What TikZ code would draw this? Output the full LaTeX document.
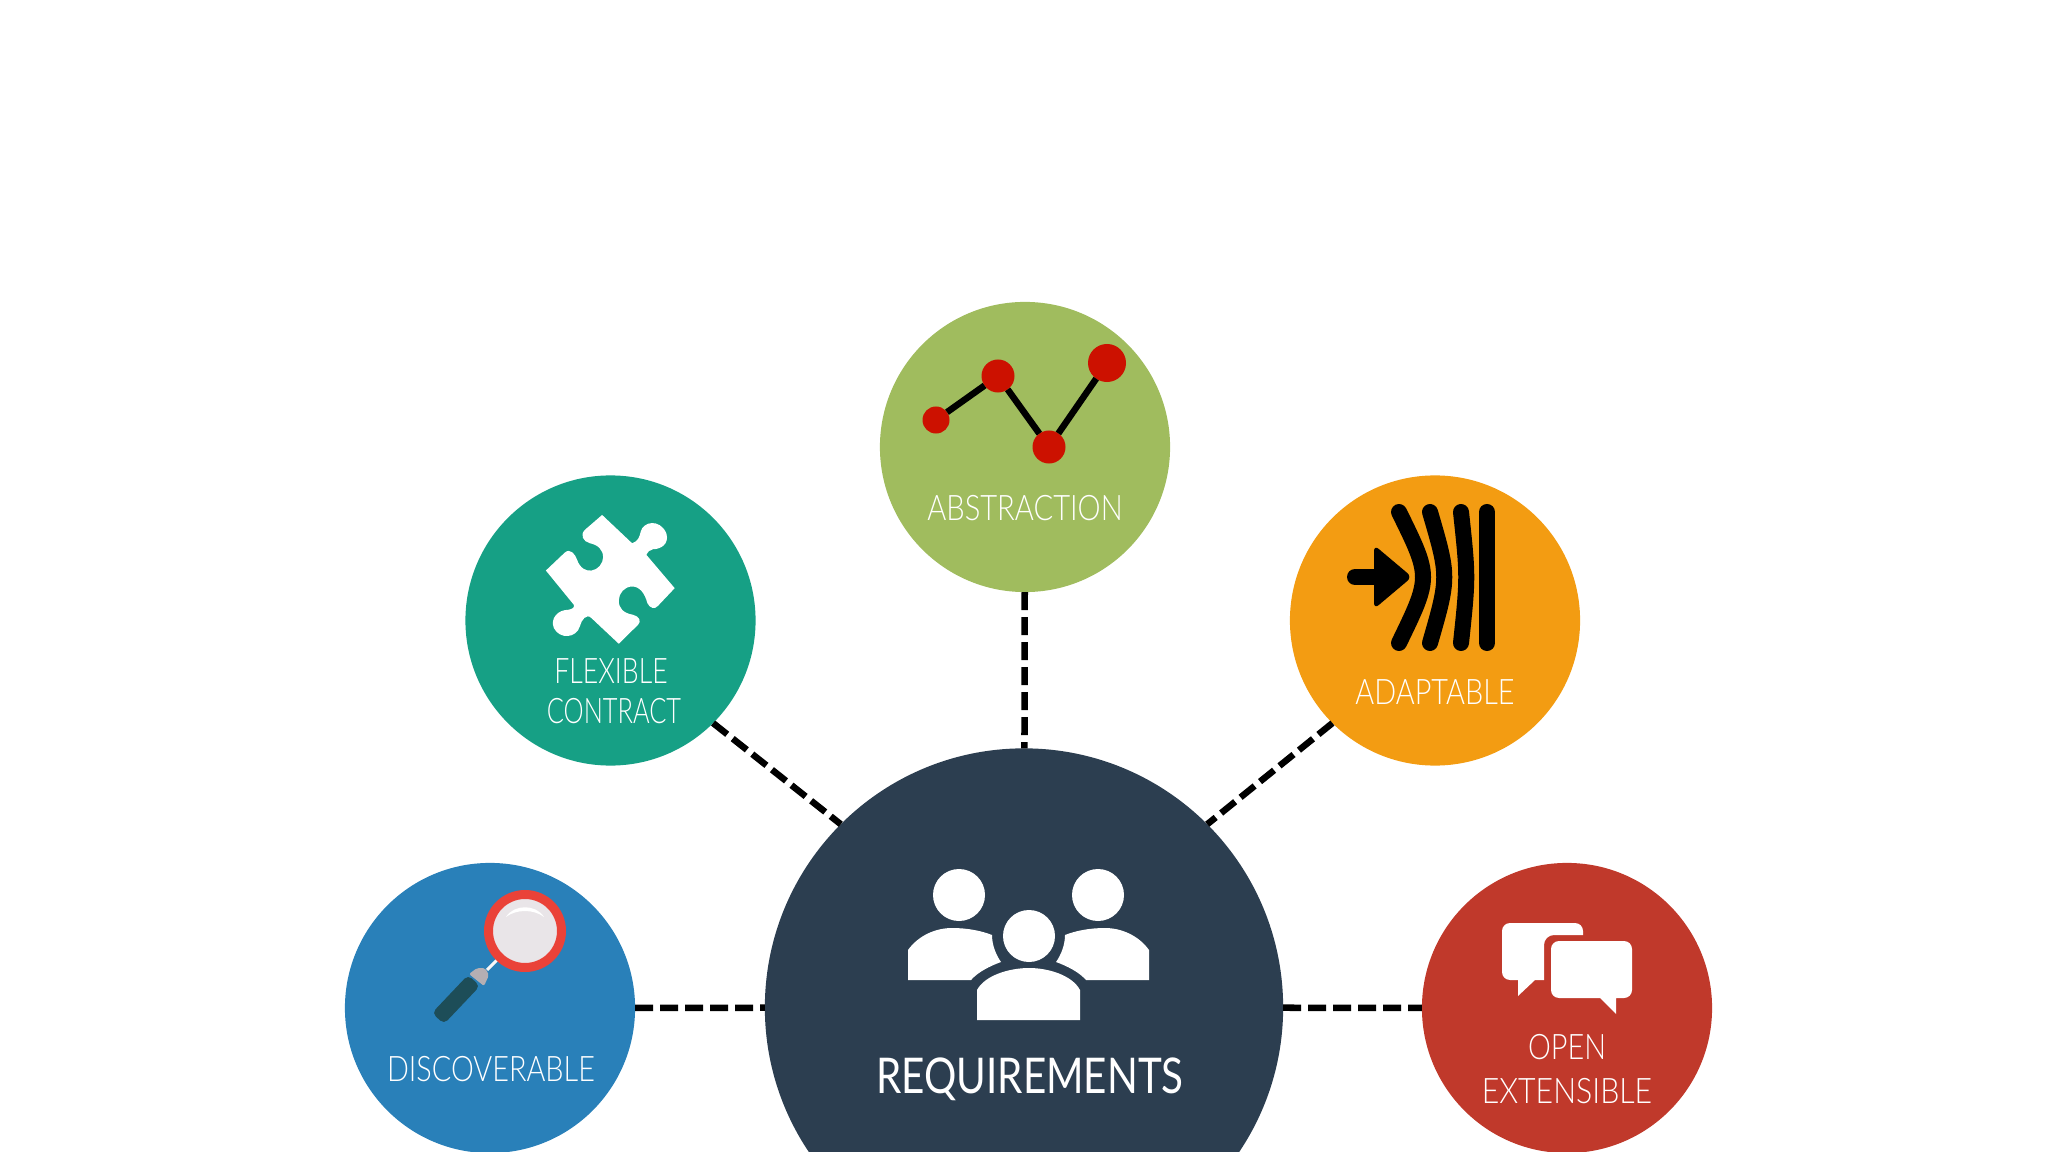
\documentclass[tikz,border=0pt]{standalone}
\usepackage{fontspec}
\newfontfamily\labelfont[UprightFont=*-Light,FakeStretch=0.82]{Lato}
\newfontfamily\mainlabelfont[FakeStretch=0.82]{Lato}
\definecolor{colreq}{HTML}{2C3E50}
\definecolor{coldis}{HTML}{2980B9}
\definecolor{colflx}{HTML}{16A085}
\definecolor{colabs}{HTML}{A0BC5E}
\definecolor{colada}{HTML}{F39C12}
\definecolor{colopn}{HTML}{C0392B}
\definecolor{coldot}{HTML}{CC1100}
\definecolor{colring}{HTML}{EA4238}
\definecolor{collens}{HTML}{E9E5E8}
\definecolor{colgrip}{HTML}{1D4D58}
\definecolor{colcap}{HTML}{B5AFB3}
\tikzset{
  bubble/.style={circle,minimum size=2.9cm,inner sep=0pt,outer sep=0pt},
  link/.style={line width=0.065cm,dash pattern=on 0.18cm off 0.07cm},
  caption/.style={text=white,inner sep=0pt,text height=0.25cm,text depth=0pt,font=\labelfont\fontsize{10}{12}\selectfont},
  dot/.style={circle,fill=coldot,inner sep=0pt,outer sep=0pt},
  stroke/.style={line width=0.16cm,line cap=round},
}
\begin{document}
\begin{tikzpicture}[x=0.01cm,y=-0.01cm]
            \clip (0,0) rectangle (2048,1152);
            \node[bubble,fill=colreq,minimum size=5.18cm] (REQ) at (1024,1007.5) {};
            \node[bubble,fill=coldis] (DIS) at (490,1008) {};
            \node[bubble,fill=colflx] (FLX) at (610.5,620.5) {};
            \node[bubble,fill=colabs] (ABS) at (1025,447) {};
            \node[bubble,fill=colada] (ADA) at (1435,620.5) {};
            \node[bubble,fill=colopn] (OPN) at (1567,1008) {};

            \draw[link] (DIS) to (REQ); \draw[link] (REQ) to (OPN);
            \draw[link] (ABS) to (REQ);
            \draw[link] (FLX.-45) to (REQ.135); \draw[link] (ADA.225) to (REQ.45);

            \node[caption,font=\mainlabelfont\fontsize{14}{16}\selectfont,text height=0.35cm] (TREQ) at (1030,1076) {REQUIREMENTS};
            \node[caption] (TDIS) at (491,1069) {DISCOVERABLE};
            \node[caption] (TFLX) at (611,671) {\scalebox{0.925}[1]{FLEXIBLE}};
            \node[caption] (TCON) at (614,711) {\scalebox{0.88}[1]{CONTRACT}};
            \node[caption] (TABS) at (1025,508) {\scalebox{1.01}[1]{ABSTRACTION}};
            \node[caption] (TADA) at (1435,692) {ADAPTABLE};
            \node[caption] (TOPN) at (1567,1047) {OPEN};
            \node[caption] (TEXT) at (1567,1091) {\scalebox{1.05}[1]{EXTENSIBLE}};

            \fill[white] (959,895) circle (26); \fill[white] (1098,895) circle (26); \fill[white] (1029,936) circle (26);
            \fill[white] (977,1020) -- (977,990) .. controls (985,975) and (1010,968) .. (1029,968)
                .. controls (1048,968) and (1072,975) .. (1080,990) -- (1080,1020) -- cycle;
            \fill[white] (908,980) -- (908,950) .. controls (918,936) and (935,928) .. (952,928)
                .. controls (968,928) and (982,931) .. (992,935) .. controls (992,945) and (996,955) .. (1001,962)
                .. controls (990,966) and (978,972) .. (971,980) -- cycle;
            \fill[white] (1149,980) -- (1149,950) .. controls (1139,936) and (1122,928) .. (1105,928)
                .. controls (1089,928) and (1075,931) .. (1065,935) .. controls (1065,945) and (1061,955) .. (1056,962)
                .. controls (1067,966) and (1079,972) .. (1086,980) -- cycle;

            \fill[colgrip,rounded corners=0.05cm] (468,975) -- (480,986) -- (444,1024) -- (432,1013) -- cycle;
            \fill[colcap,rounded corners=0.02cm] (469,974) -- (477,968) -- (485,968) -- (489,975) -- (484,986) -- cycle;
            \draw[white!90!colcap,line width=0.03cm] (487,970) -- (498,959);
            \fill[collens] (525,931) circle (36);
            \draw[colring,line width=0.09cm] (525,931) circle (36.5);
            \fill[white] (506,917) .. controls (514,904) and (536,904) .. (544,917) .. controls (534,909) and (516,909) .. (506,917) -- cycle;

            \fill[white,rounded corners=0.08cm] (1502,923) -- (1583,923) [sharp corners] -- (1583,935)
                [rounded corners=0.1cm] -- (1544,935) [sharp corners] -- (1544,980)
                -- (1535,980) -- (1518,996) -- (1518,980) [rounded corners=0.08cm] -- (1502,980) -- cycle;
            \fill[white,rounded corners=0.08cm] (1551,941) -- (1632,941) -- (1632,998)
                [sharp corners] -- (1616,998) -- (1616,1014) -- (1600,998) [rounded corners=0.08cm] -- (1551,998) -- cycle;

            \draw[stroke] (1355,577) -- (1380,577);
            \fill[black,rounded corners=0.06cm] (1374,545) -- (1412,577) -- (1374,609) -- cycle;
            \draw[stroke] (1399,512) .. controls (1431,577) .. (1399,643);
            \draw[stroke] (1430,512) .. controls (1449,577) .. (1430,643);
            \draw[stroke] (1461,512) .. controls (1468,577) .. (1461,643);
            \draw[stroke] (1487,512) -- (1487,643);

            \begin{scope}[shift={(470,480)},x=0.00333cm,y=-0.00333cm]
                \fill[white] (397,105) -- (487,190) .. controls (505,185) and (510,170) .. (513,155)
                    .. controls (520,125) and (570,115) .. (590,160) .. controls (600,195) and (570,208) .. (550,208)
                    .. controls (540,210) and (535,215) .. (530,225) -- (615,325) -- (565,378)
                    .. controls (555,390) and (540,385) .. (533,370) .. controls (525,340) and (510,320) .. (487,320)
                    .. controls (465,320) and (447,340) .. (447,362) .. controls (447,385) and (460,400) .. (490,405)
                    .. controls (510,410) and (515,425) .. (505,435) -- (447,492) -- (365,415)
                    .. controls (350,400) and (335,420) .. (330,440) .. controls (320,475) and (270,480) .. (252,445)
                    .. controls (240,415) and (265,390) .. (295,390) .. controls (305,388) and (315,385) .. (312,375)
                    -- (228,272) -- (285,218) .. controls (300,205) and (315,220) .. (322,240)
                    .. controls (330,265) and (350,275) .. (365,272) .. controls (385,270) and (400,250) .. (400,232)
                    .. controls (400,210) and (385,195) .. (360,190) .. controls (340,185) and (330,165) .. (345,150) -- cycle;
            \end{scope}

            \node[dot,minimum size=0.27cm] (P) at (936,420) {};
            \node[dot,minimum size=0.33cm] (Q) at (998,376) {};
            \node[dot,minimum size=0.33cm] (R) at (1049,447) {};
            \node[dot,minimum size=0.38cm] (S) at (1107,363) {};
            \draw[line width=0.065cm] (P) to (Q); \draw[line width=0.065cm] (Q) to (R); \draw[line width=0.065cm] (R) to (S);
\end{tikzpicture}
\end{document}
